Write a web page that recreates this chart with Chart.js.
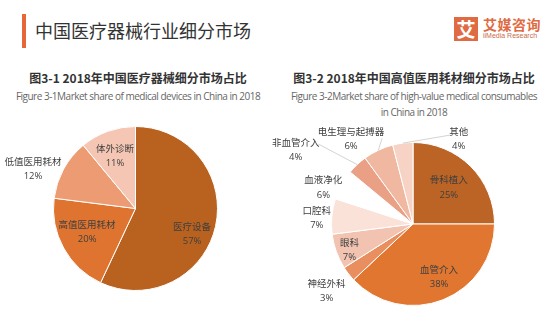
<!DOCTYPE html>
<html>
<head>
<meta charset="utf-8">
<script src="https://cdn.jsdelivr.net/npm/chart.js@4.4.1/dist/chart.umd.min.js"></script>
<style>
  html, body { margin: 0; padding: 0; background: #fff; }
  #page { position: relative; width: 552px; height: 334px; overflow: hidden; font-family: "Noto Sans CJK SC", sans-serif; }
  .abs { position: absolute; white-space: nowrap; }
  #bar { left: 22px; top: 14px; width: 4px; height: 34px; background: #e8673a; }
  #head { left: 35px; top: 17px; font-size: 18px; line-height: 26px; color: #333; }
  #logoBox { left: 454px; top: 17px; width: 24px; height: 24px; background: #e06a42; color: #fff; font-size: 19px; font-weight: bold; line-height: 24px; text-align: center; }
  #logoCn { left: 483px; top: 15px; font-size: 14px; line-height: 18px; font-weight: bold; color: #e06a42; letter-spacing: 0.5px; }
  #logoEn { left: 483px; top: 31px; font-size: 7px; line-height: 9px; color: #c96b4b; font-family: "Liberation Sans Narrow", "Liberation Sans", sans-serif; }
  .ttl { font-size: 12px; font-weight: bold; color: #333; line-height: 16px; text-align: center; width: 276px; }
  .sub { font-size: 10px; color: #666; line-height: 16px; text-align: center; width: 276px; letter-spacing: -0.5px; font-family: "Liberation Sans Narrow", "Open Sans", sans-serif; }
  canvas { position: absolute; left: 0; top: 0; }
</style>
</head>
<body>
<div id="page">
  <div class="abs" id="bar"></div>
  <div class="abs" id="head">中国医疗器械行业细分市场</div>
  <div class="abs" id="logoBox">艾</div>
  <div class="abs" id="logoCn">艾媒咨询</div>
  <div class="abs" id="logoEn">iiMedia Research</div>

  <div class="abs ttl" style="left:0;top:70px;">图3-1 2018年中国医疗器械细分市场占比</div>
  <div class="abs sub" style="left:0;top:88px;">Figure 3-1Market share of medical devices in China in 2018</div>

  <div class="abs ttl" style="left:276px;top:70px;">图3-2 2018年中国高值医用耗材细分市场占比</div>
  <div class="abs sub" style="left:276px;top:88px;">Figure 3-2Market share of high-value medical consumables</div>
  <div class="abs sub" style="left:276px;top:104px;">in China in 2018</div>

  <canvas id="device_pie" width="552" height="334"></canvas>
  <canvas id="consumable_pie" width="552" height="334"></canvas>
</div>

<script>
// 2018 medical device market split (%)
var deviceLabels = ['医疗设备', '高值医用耗材', '低值医用耗材', '体外诊断'];
var deviceShare = [57, 20, 12, 11];

// 2018 high-value consumables split (%)
var consumableLabels = ['骨科植入', '血管介入', '神经外科', '眼科', '口腔科', '血液净化', '非血管介入', '电生理与起搏器', '其他'];
var consumableShare = [25, 38, 3, 7, 7, 6, 4, 6, 4];

var deviceColors = ['#b9621f', '#de7430', '#ec9b72', '#f4c6b3'];
var consumableColors = ['#bb6425', '#e0762f', '#e98f5f', '#f3c3b2', '#fbe2d8', '#ffffff', '#e9a084', '#f0b8a0', '#f6d3c5'];

// label centres, in units of the pie radius from its centre
var deviceLabelPos = [[0.69, 0.31], [-0.59, 0.29], [-1.25, -0.48], [-0.25, -0.64]];
var consumableLabelPos = [[0.44, -0.45], [0.32, 0.65], [-1.06, 0.82], [-0.78, 0.32], [-1.18, -0.07],
                          [-1.10, -0.45], [-1.44, -0.91], [-0.76, -1.04], [0.56, -1.04]];
// leader line ends (null = no line)
var consumableLeaders = [null, null, null, null, null, null, [-1.16, -0.98], [-0.38, -1.05], [0.45, -1.09]];

(function() {
    "use strict"

    var sliceLabels = {
        id: 'sliceLabels',
        afterDatasetsDraw: function(chart, args, opts) {
            var ctx = chart.ctx;
            var meta = chart.getDatasetMeta(0);
            var data = chart.data.datasets[0].data;
            ctx.save();
            meta.data.forEach(function(arc, i) {
                var r = arc.outerRadius;
                var cx = arc.x, cy = arc.y;
                var lead = opts.leaders ? opts.leaders[i] : null;
                if (lead) {
                    var mid = (arc.startAngle + arc.endAngle) / 2;
                    ctx.beginPath();
                    ctx.strokeStyle = '#c8c8c8';
                    ctx.lineWidth = 0.8;
                    ctx.moveTo(cx + Math.cos(mid) * r, cy + Math.sin(mid) * r);
                    ctx.lineTo(cx + lead[0] * r, cy + lead[1] * r);
                    ctx.stroke();
                }
                var p = opts.pos[i];
                var x = cx + p[0] * r, y = cy + p[1] * r;
                ctx.fillStyle = '#404040';
                ctx.font = '9.5px "Noto Sans CJK SC"';
                ctx.textAlign = 'center';
                ctx.textBaseline = 'middle';
                ctx.fillText(chart.data.labels[i], x, y - 7.5);
                ctx.font = '9.5px "Liberation Sans Narrow", "Open Sans", sans-serif';
                ctx.fillText(data[i] + '%', x, y + 7.5);
            });
            ctx.restore();
        }
    };

    var makePie = function(id, labels, values, colors, pad, pos, leaders) {
        var el = document.getElementById(id).getContext('2d');
        return new Chart(el, {
            type: 'pie',
            data: {
                labels: labels,
                datasets: [{
                    data: values,
                    backgroundColor: colors,
                    borderColor: '#ffffff',
                    borderWidth: 1
                }]
            },
            options: {
                responsive: false,
                animation: false,
                layout: { padding: pad },
                plugins: {
                    legend: { display: false },
                    tooltip: { enabled: false },
                    sliceLabels: { pos: pos, leaders: leaders }
                }
            },
            plugins: [sliceLabels]
        });
    };

    makePie('device_pie', deviceLabels, deviceShare, deviceColors,
        { left: 53, top: 126, right: 334, bottom: 43 }, deviceLabelPos, null);
    makePie('consumable_pie', consumableLabels, consumableShare, consumableColors,
        { left: 331, top: 142, right: 57, bottom: 28 }, consumableLabelPos, consumableLeaders);
})();
</script>
</body>
</html>
